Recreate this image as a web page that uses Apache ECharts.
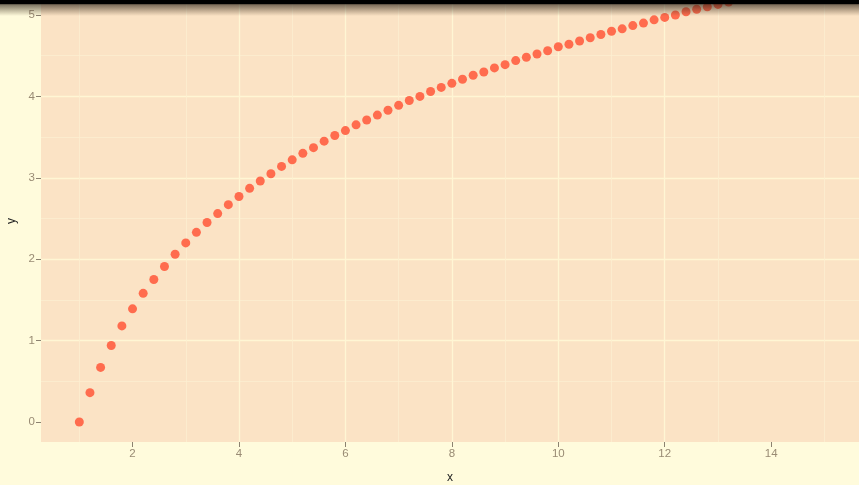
<!DOCTYPE html>
<html>
<head>
<meta charset="utf-8">
<script src="https://cdn.jsdelivr.net/npm/echarts@6/dist/echarts.min.js"></script>
<style>
html,body{margin:0;padding:0;background:#fffbdc;}
#c{width:859px;height:485px;}
</style>
</head>
<body>
<div id="c"></div>
<script>
var xValues = [1.0,1.2,1.4,1.6,1.8,2.0,2.2,2.4,2.6,2.8,3.0,3.2,3.4,3.6,3.8,4.0,4.2,4.4,4.6,4.8,5.0,5.2,5.4,5.6,5.8,6.0,6.2,6.4,6.6,6.8,7.0,7.2,7.4,7.6,7.8,8.0,8.2,8.4,8.6,8.8,9.0,9.2,9.4,9.6,9.8,10.0,10.2,10.4,10.6,10.8,11.0,11.2,11.4,11.6,11.8,12.0,12.2,12.4,12.6,12.8,13.0,13.2,13.4];
var yValues = [0,0.36,0.67,0.94,1.18,1.39,1.58,1.75,1.91,2.06,2.20,2.33,2.45,2.56,2.67,2.77,2.87,2.96,3.05,3.14,3.22,3.30,3.37,3.45,3.52,3.58,3.65,3.71,3.77,3.83,3.89,3.95,4.00,4.06,4.11,4.16,4.21,4.26,4.30,4.35,4.39,4.44,4.48,4.52,4.56,4.61,4.64,4.68,4.72,4.76,4.80,4.83,4.87,4.90,4.94,4.97,5.00,5.04,5.07,5.10,5.13,5.16,5.19];
var xTicks = [2,4,6,8,10,12,14];
var yTicks = [0,1,2,3,4,5];
var xTitle = 'x';
var yTitle = 'y';

var pts = xValues.map(function(x,i){return [x,yValues[i]];});
var chart = echarts.init(document.getElementById('c'));
var labelStyle = {color:'#998b74', fontSize:11.5, fontFamily:'Liberation Sans, Arial, sans-serif'};
chart.setOption({
  backgroundColor:'#fffbdc',
  animation:false,
  grid:{left:41, right:0, top:0, bottom:43, containLabel:false, outerBoundsMode:'none', show:true, backgroundColor:'#fbe3c5', borderWidth:0},
  xAxis:{
    type:'value', min:0.28, max:15.65, splitNumber:8,
    name:xTitle, nameLocation:'middle', nameGap:30,
    nameTextStyle:{color:'#222', fontSize:12, fontFamily:'Liberation Sans, Arial, sans-serif'},
    axisLine:{show:false, onZero:false},
    axisTick:{show:true, length:5, lineStyle:{color:'#8c8270'}, customValues:xTicks},
    axisLabel:Object.assign({margin:6, customValues:xTicks}, labelStyle),
    splitLine:{show:true, showMinLine:false, showMaxLine:false, lineStyle:{color:'#fff6d4', width:1.4}},
    minorTick:{show:false, splitNumber:2},
    minorSplitLine:{show:true, lineStyle:{color:'#fdefd0', width:0.8}}
  },
  yAxis:{
    type:'value', min:-0.246, max:5.184, splitNumber:5,
    name:yTitle, nameLocation:'middle', nameGap:23, nameRotate:90,
    nameTextStyle:{color:'#222', fontSize:12, fontFamily:'Liberation Sans, Arial, sans-serif'},
    axisLine:{show:false, onZero:false},
    axisTick:{show:true, length:5, lineStyle:{color:'#8c8270'}, customValues:yTicks},
    axisLabel:Object.assign({margin:6, customValues:yTicks}, labelStyle),
    splitLine:{show:true, showMinLine:false, showMaxLine:false, lineStyle:{color:'#fff6d4', width:1.4}},
    minorTick:{show:false, splitNumber:2},
    minorSplitLine:{show:true, lineStyle:{color:'#fdefd0', width:0.8}}
  },
  series:[{
    type:'scatter', data:pts, symbol:'circle', symbolSize:9,
    itemStyle:{color:'#ff6c4e', opacity:1}, z:3
  }],
  graphic:[
    {type:'rect', left:0, top:0, z:100, shape:{width:859, height:16},
     style:{fill:{type:'linear', x:0, y:0, x2:0, y2:1, colorStops:[
       {offset:0, color:'rgba(0,0,0,1)'},
       {offset:0.22, color:'rgba(0,0,0,1)'},
       {offset:0.3, color:'rgba(40,30,20,0.6)'},
       {offset:1, color:'rgba(60,40,20,0)'}
     ]}}}
  ]
});
</script>
</body>
</html>
